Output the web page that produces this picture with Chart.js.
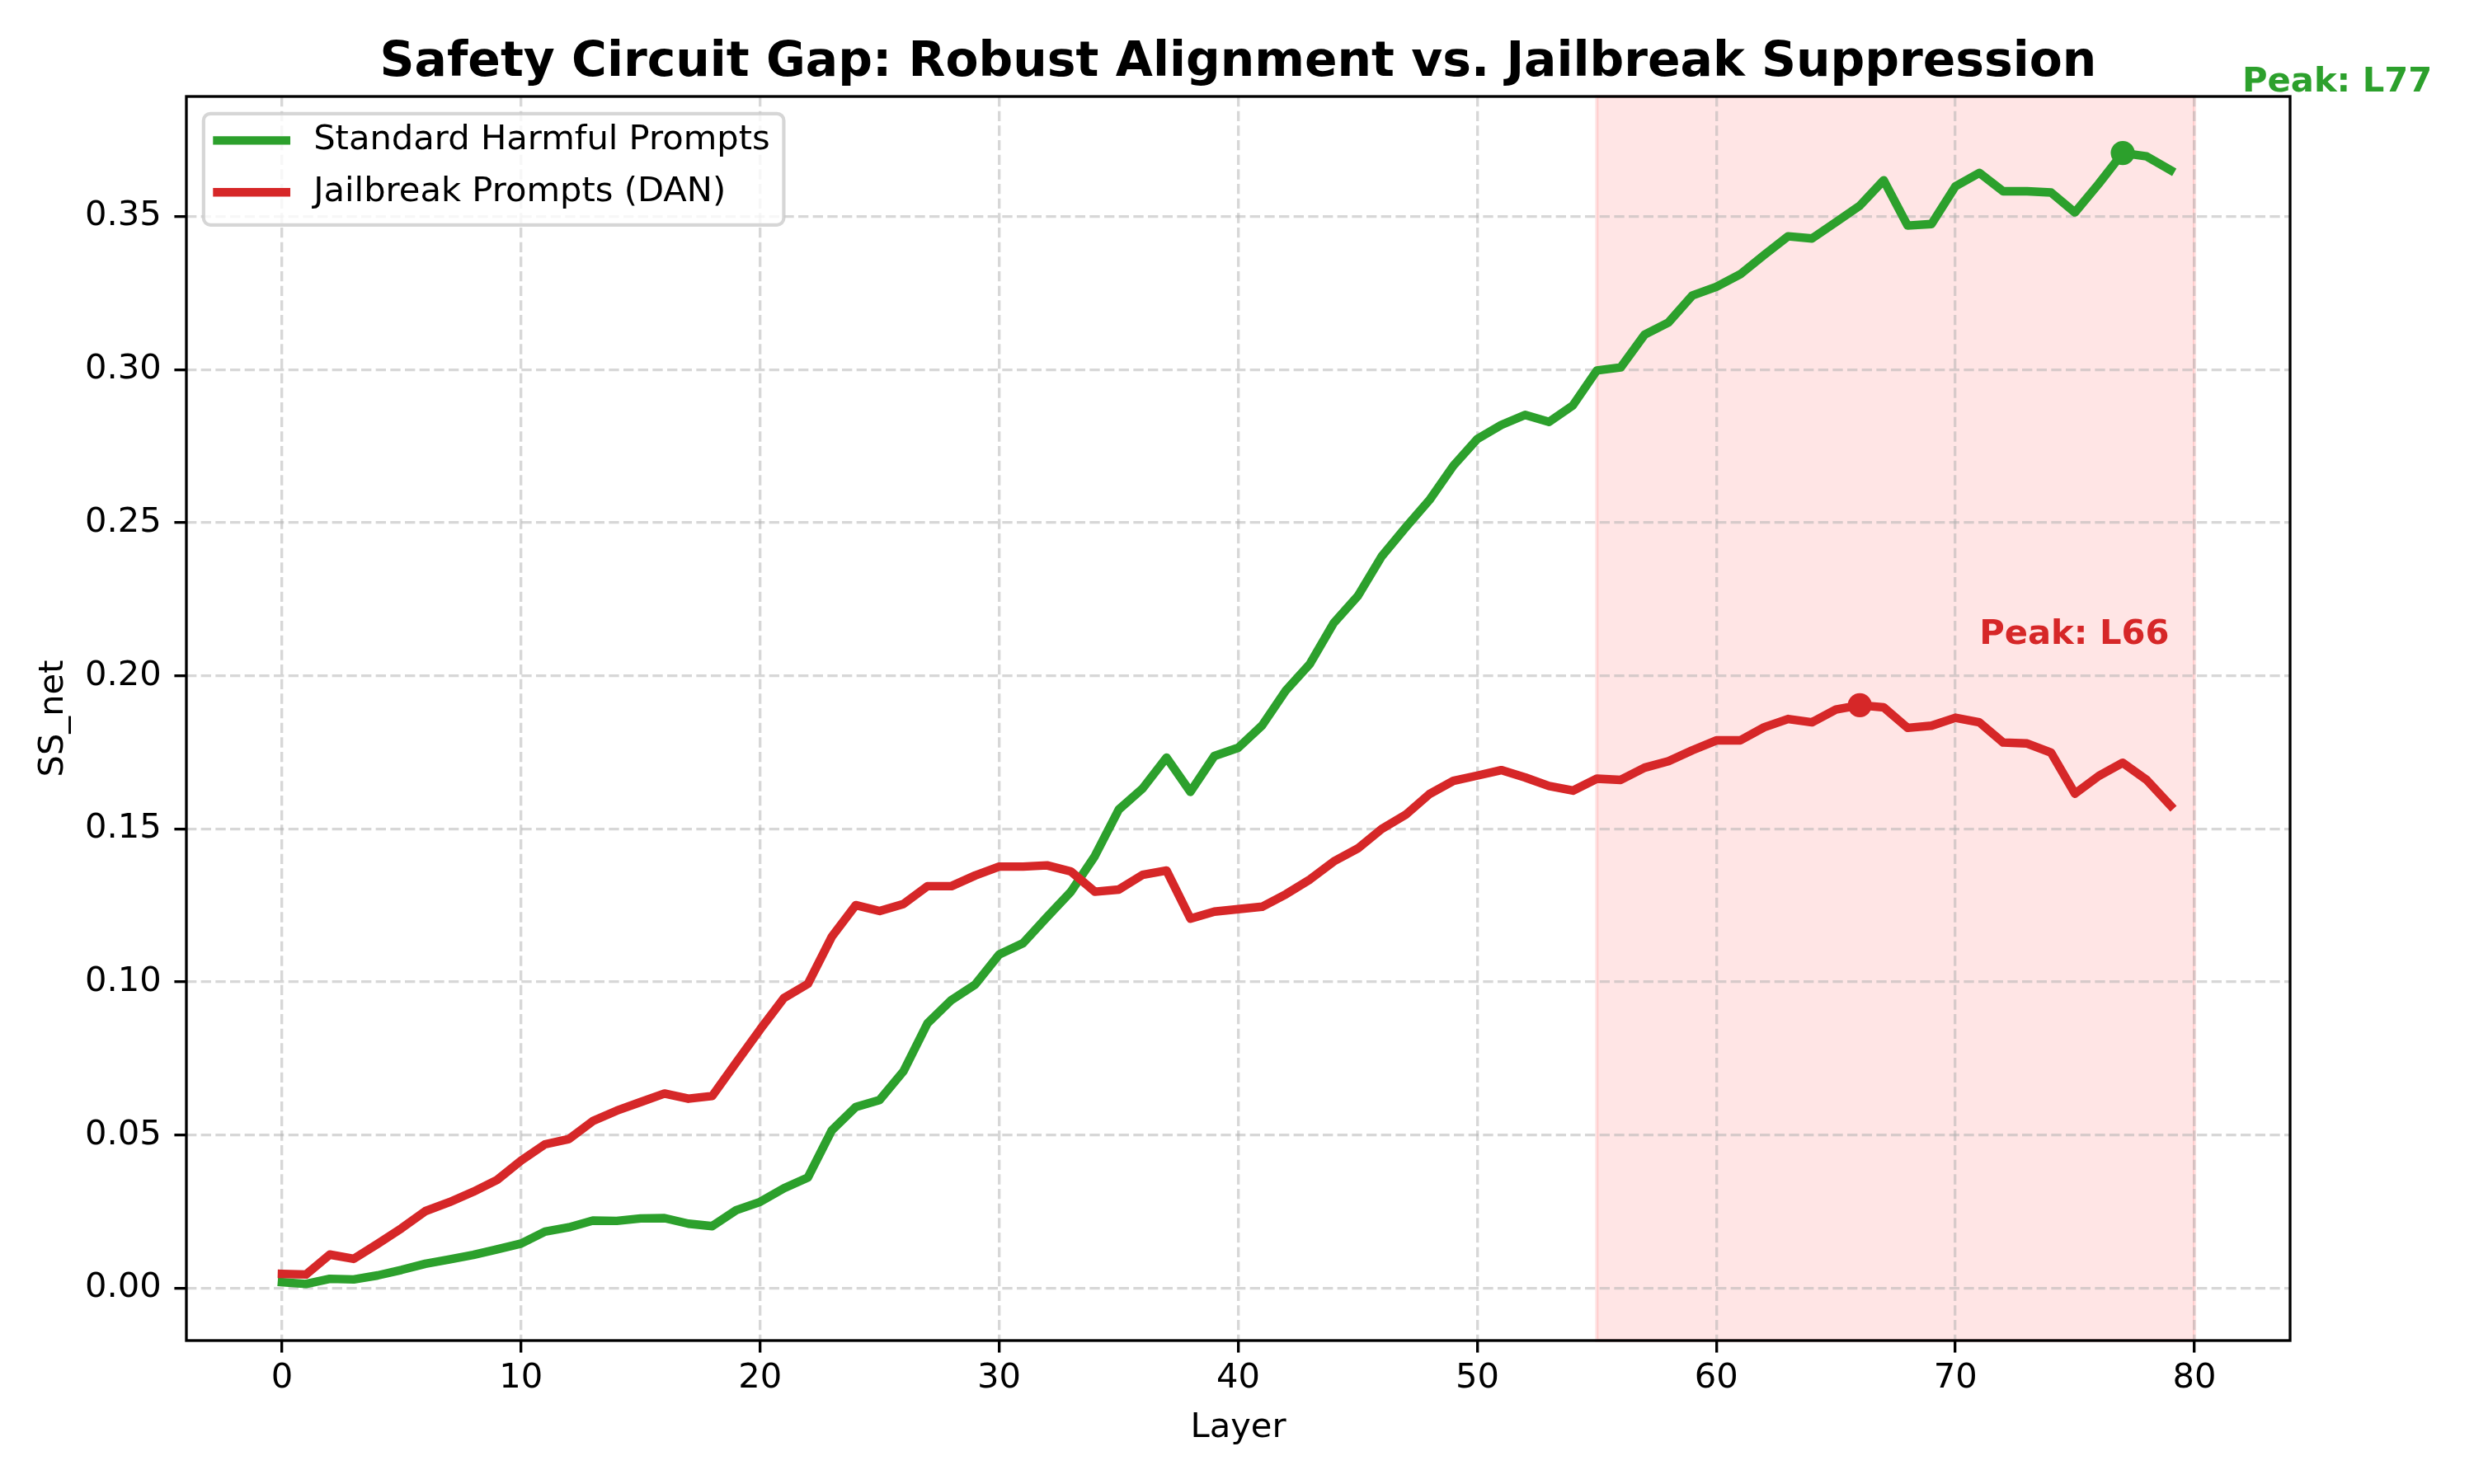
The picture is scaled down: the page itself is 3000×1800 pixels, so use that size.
<!DOCTYPE html>
<html>
<head>
<meta charset="utf-8">
<script src="https://cdn.jsdelivr.net/npm/chart.js@4.4.1/dist/chart.umd.min.js"></script>
<style>
  html, body { margin: 0; padding: 0; background: #ffffff; }
  #wrap { width: 3000px; height: 1800px; }
</style>
</head>
<body>
<div id="wrap"><canvas id="c" width="3000" height="1800" style="width:3000px;height:1800px"></canvas></div>
<script>
// ---------------- DATA ----------------
const layers = [0,1,2,3,4,5,6,7,8,9,10,11,12,13,14,15,16,17,18,19,
  20,21,22,23,24,25,26,27,28,29,30,31,32,33,34,35,36,37,38,39,
  40,41,42,43,44,45,46,47,48,49,50,51,52,53,54,55,56,57,58,59,
  60,61,62,63,64,65,66,67,68,69,70,71,72,73,74,75,76,77,78,79];

const standardHarmful = [
  0.0020,0.0014,0.0031,0.0029,0.0042,0.0060,0.0080,0.0094,0.0109,0.0127,
  0.0146,0.0185,0.0199,0.0221,0.0220,0.0228,0.0229,0.0211,0.0203,0.0255,
  0.0282,0.0327,0.0362,0.0516,0.0592,0.0615,0.0709,0.0865,0.0941,0.0992,
  0.1090,0.1127,0.1212,0.1295,0.1411,0.1563,0.1632,0.1733,0.1621,0.1738,
  0.1765,0.1838,0.1953,0.2039,0.2173,0.2260,0.2390,0.2484,0.2574,0.2686,
  0.2773,0.2819,0.2852,0.2829,0.2883,0.2997,0.3007,0.3114,0.3154,0.3242,
  0.3270,0.3311,0.3374,0.3435,0.3428,0.3481,0.3535,0.3618,0.3470,0.3475,
  0.3598,0.3642,0.3582,0.3582,0.3578,0.3513,0.3607,0.3707,0.3696,0.3651];

const jailbreakDAN = [
  0.0047,0.0045,0.0110,0.0096,0.0145,0.0196,0.0252,0.0281,0.0315,0.0354,
  0.0417,0.0470,0.0487,0.0546,0.0580,0.0608,0.0636,0.0619,0.0628,0.0737,
  0.0845,0.0948,0.0994,0.1148,0.1251,0.1232,0.1255,0.1313,0.1313,0.1348,
  0.1377,0.1377,0.1381,0.1361,0.1295,0.1302,0.1350,0.1364,0.1207,0.1230,
  0.1238,0.1246,0.1287,0.1335,0.1394,0.1436,0.1500,0.1546,0.1614,0.1657,
  0.1674,0.1692,0.1668,0.1640,0.1625,0.1664,0.1660,0.1700,0.1721,0.1757,
  0.1789,0.1789,0.1832,0.1859,0.1848,0.1890,0.1904,0.1897,0.1830,0.1837,
  0.1863,0.1848,0.1782,0.1779,0.1749,0.1615,0.1673,0.1716,0.1660,0.1576];

const seriesLabels = ['Standard Harmful Prompts', 'Jailbreak Prompts (DAN)'];
const xTicks = [0, 10, 20, 30, 40, 50, 60, 70, 80];
const yTicks = [0.00, 0.05, 0.10, 0.15, 0.20, 0.25, 0.30, 0.35];
const highlightRange = [55, 80];
const chartTitle = 'Safety Circuit Gap: Robust Alignment vs. Jailbreak Suppression';
const xLabel = 'Layer';
const yLabel = 'SS_net';

// ---------------- STYLE ----------------
const PT = 300 / 72;
const FS = 10 * PT;
const GREEN = '#2ca02c';
const RED = '#d62728';
const FAMILY = "'DejaVu Sans', sans-serif";

Chart.defaults.font.family = FAMILY;
Chart.defaults.color = '#000';

// matplotlib-like autoscale margins
const allVals = standardHarmful.concat(jailbreakDAN);
const vMin = Math.min(...allVals), vMax = Math.max(...allVals);
const yMin = vMin - 0.05 * (vMax - vMin);
const yMax = vMax + 0.05 * (vMax - vMin);
const xLo = Math.min(layers[0], highlightRange[0]);
const xHi = Math.max(layers[layers.length - 1], highlightRange[1]);
const xMin = xLo - 0.05 * (xHi - xLo);
const xMax = xHi + 0.05 * (xHi - xLo);

function peakIndex(arr) { let b = 0; arr.forEach((v, i) => { if (v > arr[b]) b = i; }); return b; }
const peakG = peakIndex(standardHarmful);
const peakR = peakIndex(jailbreakDAN);

const gridOpts = {
  color: 'rgba(176,176,176,0.5)',
  lineWidth: 0.8 * PT,
  drawTicks: true,
  tickLength: 3.5 * PT,
  tickWidth: 0.8 * PT,
  tickColor: '#000',
  tickBorderDash: []
};
const borderOpts = { display: false, dash: [2.96 * PT, 1.28 * PT] };

const decor = {
  id: 'decor',
  beforeDraw(chart) {
    const { ctx, chartArea: a, scales: { x } } = chart;
    ctx.save();
    ctx.fillStyle = '#ffffff';
    ctx.fillRect(0, 0, chart.width, chart.height);
    const x0 = x.getPixelForValue(highlightRange[0]);
    const x1 = x.getPixelForValue(highlightRange[1]);
    ctx.fillStyle = 'rgba(255,0,0,0.1)';
    ctx.fillRect(x0, a.top, x1 - x0, a.bottom - a.top);
    ctx.strokeStyle = 'rgba(255,0,0,0.1)';
    ctx.lineWidth = PT;
    ctx.strokeRect(x0, a.top, x1 - x0, a.bottom - a.top);
    ctx.restore();
  },
  afterDatasetsDraw(chart) {
    const { ctx, chartArea: a } = chart;
    ctx.save();
    ctx.strokeStyle = '#000';
    ctx.lineWidth = 0.8 * PT;
    ctx.lineJoin = 'miter';
    ctx.strokeRect(a.left, a.top, a.right - a.left, a.bottom - a.top);
    ctx.restore();
  },
  afterDraw(chart) {
    const { ctx, chartArea: a, scales: { x, y } } = chart;
    ctx.save();
    // Title, centred over the axes
    ctx.font = `bold ${14 * PT}px ${FAMILY}`;
    ctx.fillStyle = '#000';
    ctx.textAlign = 'center';
    ctx.textBaseline = 'alphabetic';
    ctx.fillText(chartTitle, (a.left + a.right) / 2, a.top - 6 * PT);
    // Peak annotations
    [[standardHarmful, peakG, GREEN], [jailbreakDAN, peakR, RED]].forEach(([vals, i, col]) => {
      const px = x.getPixelForValue(layers[i] + 5);
      const py = y.getPixelForValue(vals[i] + 0.02);
      ctx.font = `bold ${FS}px ${FAMILY}`;
      ctx.fillStyle = col;
      ctx.textAlign = 'left';
      ctx.textBaseline = 'alphabetic';
      ctx.fillText('Peak: L' + layers[i], px, py);
    });
    // Legend (upper left, matplotlib style)
    ctx.font = `${FS}px ${FAMILY}`;
    const tw = Math.max(...seriesLabels.map(s => ctx.measureText(s).width));
    const bx = a.left + 0.5 * FS, by = a.top + 0.5 * FS;
    const bw = 0.4 * FS + 2 * FS + 0.8 * FS + tw + 0.4 * FS;
    const bh = 3.24 * FS;
    const r = 0.2 * FS;
    ctx.beginPath();
    ctx.moveTo(bx + r, by);
    ctx.lineTo(bx + bw - r, by);
    ctx.arcTo(bx + bw, by, bx + bw, by + r, r);
    ctx.lineTo(bx + bw, by + bh - r);
    ctx.arcTo(bx + bw, by + bh, bx + bw - r, by + bh, r);
    ctx.lineTo(bx + r, by + bh);
    ctx.arcTo(bx, by + bh, bx, by + bh - r, r);
    ctx.lineTo(bx, by + r);
    ctx.arcTo(bx, by, bx + r, by, r);
    ctx.closePath();
    ctx.fillStyle = 'rgba(255,255,255,0.8)';
    ctx.fill();
    ctx.strokeStyle = 'rgba(204,204,204,0.8)';
    ctx.lineWidth = PT;
    ctx.stroke();
    const cols = [GREEN, RED];
    seriesLabels.forEach((lab, k) => {
      const cy = by + 0.78 * FS + k * 1.51 * FS;
      const hx0 = bx + 0.4 * FS, hx1 = hx0 + 2 * FS;
      ctx.beginPath();
      ctx.moveTo(hx0, cy);
      ctx.lineTo(hx1, cy);
      ctx.strokeStyle = cols[k];
      ctx.lineWidth = 2.5 * PT;
      ctx.lineCap = 'square';
      ctx.stroke();
      ctx.fillStyle = '#000';
      ctx.textAlign = 'left';
      ctx.textBaseline = 'middle';
      ctx.fillText(lab, hx1 + 0.8 * FS, cy);
    });
    ctx.restore();
  }
};

function lineDataset(label, vals, color, peak, order) {
  return {
    label: label,
    data: layers.map((l, i) => ({ x: l, y: vals[i] })),
    borderColor: color,
    backgroundColor: color,
    pointBackgroundColor: color,
    borderWidth: 2.5 * PT,
    borderCapStyle: 'square',
    borderJoinStyle: 'round',
    tension: 0,
    pointRadius: c => (c.dataIndex === peak ? 3.5 * PT : 0),
    pointHoverRadius: c => (c.dataIndex === peak ? 3.5 * PT : 0),
    pointBorderWidth: 0,
    order: order,
    clip: false
  };
}

new Chart(document.getElementById('c'), {
  type: 'line',
  data: {
    datasets: [
      lineDataset(seriesLabels[0], standardHarmful, GREEN, peakG, 1),
      lineDataset(seriesLabels[1], jailbreakDAN, RED, peakR, 0)
    ]
  },
  options: {
    responsive: false,
    animation: false,
    devicePixelRatio: 1,
    layout: { padding: { left: 0, right: 223, top: 117, bottom: 0 } },
    plugins: {
      legend: { display: false },
      tooltip: { enabled: false },
      title: { display: false }
    },
    scales: {
      x: {
        type: 'linear',
        min: xMin,
        max: xMax,
        afterBuildTicks: s => { s.ticks = xTicks.map(v => ({ value: v })); },
        afterFit: s => { s.height = 174; },
        ticks: {
          font: { size: FS, lineHeight: 1 }, color: '#000', padding: 11.2,
          maxRotation: 0, autoSkip: false, callback: v => String(v)
        },
        grid: gridOpts,
        border: borderOpts,
        title: { display: true, text: xLabel, color: '#000', font: { size: FS, lineHeight: 1 }, padding: { top: 0, bottom: 46.6 } }
      },
      y: {
        type: 'linear',
        min: yMin,
        max: yMax,
        afterBuildTicks: s => { s.ticks = yTicks.map(v => ({ value: v })); },
        afterFit: s => { s.width = 226; },
        ticks: {
          font: { size: FS, lineHeight: 1 }, color: '#000', padding: 15.7,
          autoSkip: false, callback: v => Number(v).toFixed(2)
        },
        grid: gridOpts,
        border: borderOpts,
        title: { display: true, text: yLabel, color: '#000', font: { size: FS, lineHeight: 1 }, padding: { top: 44.8, bottom: 0 } }
      }
    }
  },
  plugins: [decor]
});
</script>
</body>
</html>
